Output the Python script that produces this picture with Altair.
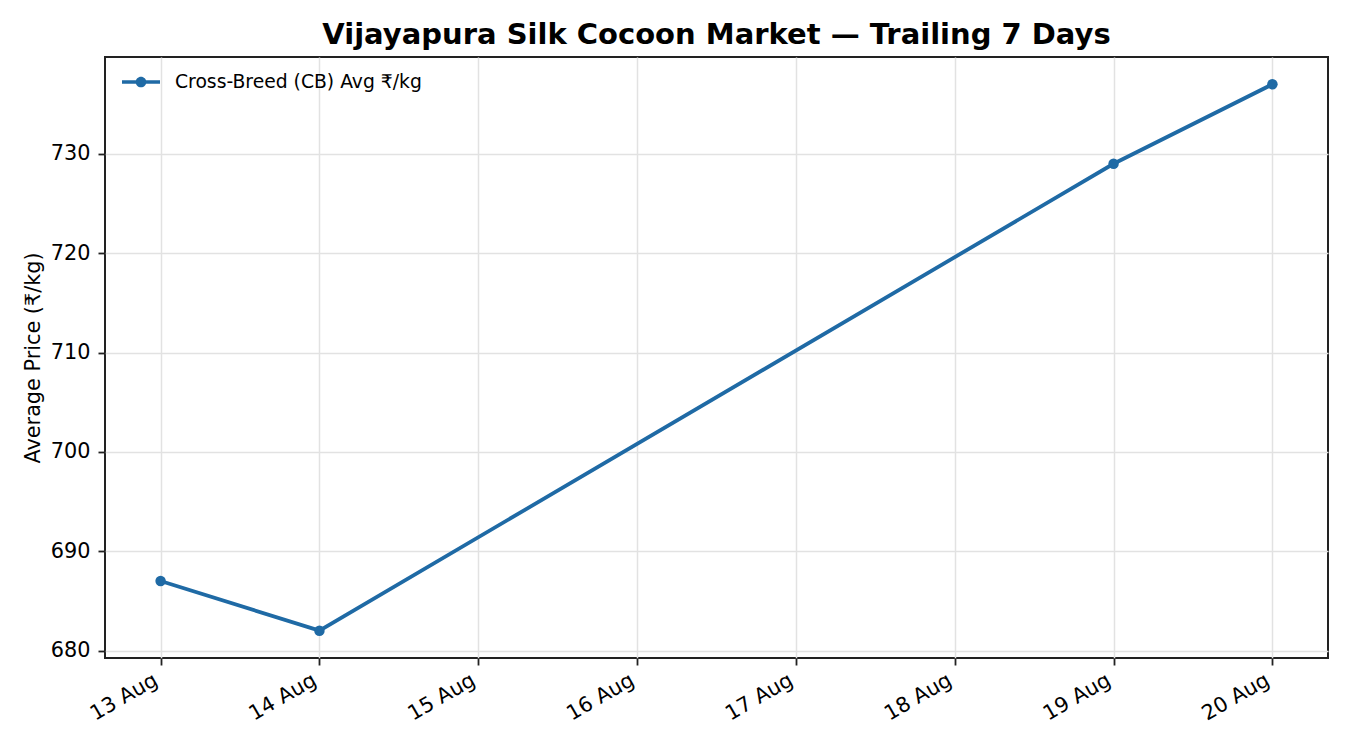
import altair as alt
import pandas as pd

dates = ["2025-08-13", "2025-08-14", "2025-08-19", "2025-08-20"]
prices = [687, 682, 729, 737]
series_name = "Cross-Breed (CB) Avg ₹/kg"
tick_days = [13, 14, 15, 16, 17, 18, 19, 20]
y_ticks = [680, 690, 700, 710, 720, 730]

df = pd.DataFrame({"date": dates, "price": prices, "series": [series_name] * len(dates)})

FONT = "DejaVu Sans"
BLUE = "#1f6aa5"

legend_path = ("M-1,-0.09H1V0.09H-1Z "
               "M0.28,0A0.28,0.28 0 1,1 -0.28,0A0.28,0.28 0 1,1 0.28,0Z")

x_enc = alt.X(
    "date:T",
    scale=alt.Scale(
        type="utc",
        domain=[alt.DateTime(year=2025, month=8, date=12, hours=15, minutes=36, utc=True),
                alt.DateTime(year=2025, month=8, date=20, hours=8, minutes=24, utc=True)],
    ),
    axis=alt.Axis(
        title=None,
        values=[alt.DateTime(year=2025, month=8, date=d, utc=True) for d in tick_days],
        labelExpr="utcFormat(datum.value, '%d %b')",
        labelAngle=-30,
        labelAlign="right",
        labelBaseline="bottom",
        labelPadding=22,
        labelFontSize=20.8,
        labelFont=FONT,
        labelColor="#000000",
        tickColor="#222222",
        tickSize=7,
        tickWidth=1.8,
        domain=False,
        grid=True,
        gridColor="#e2e2e2",
        gridWidth=1.5,
        labelOverlap=False,
    ),
)

y_enc = alt.Y(
    "price:Q",
    scale=alt.Scale(domain=[679.25, 739.75], nice=False, zero=False),
    axis=alt.Axis(
        title="Average Price (₹/kg)",
        titleFont=FONT,
        titleFontSize=20.8,
        titleFontWeight="normal",
        titleColor="#000000",
        titlePadding=7,
        values=y_ticks,
        format="d",
        labelFontSize=20.8,
        labelFont=FONT,
        labelColor="#000000",
        labelPadding=8,
        tickColor="#222222",
        tickSize=7,
        tickWidth=1.8,
        domain=False,
        grid=True,
        gridColor="#e2e2e2",
        gridWidth=1.5,
    ),
)

color_enc = alt.Color(
    "series:N",
    scale=alt.Scale(range=[BLUE]),
    legend=alt.Legend(
        title=None,
        orient="none",
        legendX=17,
        legendY=6,
        symbolType=legend_path,
        symbolSize=1444,
        symbolStrokeWidth=0,
        symbolFillColor=BLUE,
        labelFont=FONT,
        labelFontSize=18.75,
        labelColor="#000000",
        labelOffset=15,
        labelLimit=600,
        padding=0,
    ),
)

line = alt.Chart(df).mark_line(strokeWidth=3.8).encode(x=x_enc, y=y_enc, color=color_enc)
points = alt.Chart(df).mark_point(filled=True, size=110, opacity=1).encode(
    x=x_enc, y=y_enc, color=alt.Color("series:N", scale=alt.Scale(range=[BLUE]), legend=None)
)

chart = (
    alt.layer(line, points)
    .properties(
        width=1223,
        height=601,
        background="white",
        title=alt.TitleParams(
            "Vijayapura Silk Cocoon Market — Trailing 7 Days",
            font=FONT,
            fontSize=29,
            fontWeight="bold",
            color="#000000",
            anchor="middle",
            offset=7,
        ),
        autosize=alt.AutoSizeParams(type="none"),
        padding={"left": 97, "top": 49, "right": 14, "bottom": 80},
    )
    .configure_view(stroke="#222222", strokeWidth=2)
)

chart.save("out.html", embed_options={"renderer": "svg", "actions": False})
